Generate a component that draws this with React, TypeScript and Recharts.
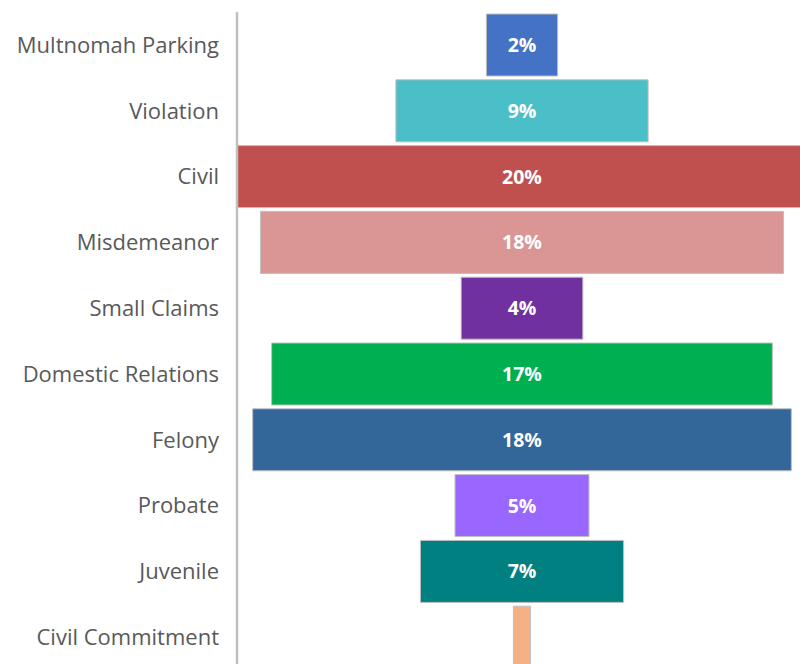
import React from "react";
import { BarChart, Bar, XAxis, YAxis, Cell, LabelList } from "recharts";

const categories = [
  "Multnomah Parking",
  "Violation",
  "Civil",
  "Misdemeanor",
  "Small Claims",
  "Domestic Relations",
  "Felony",
  "Probate",
  "Juvenile",
  "Civil Commitment",
];
const shares = [2.5, 8.85, 20.0, 18.35, 4.27, 17.57, 18.9, 4.7, 7.13, 0.6];
const labels = ["2%", "9%", "20%", "18%", "4%", "17%", "18%", "5%", "7%", ""];
const colors = [
  "#4472C4",
  "#4BBFC7",
  "#C0504D",
  "#D99694",
  "#7030A0",
  "#00B050",
  "#336699",
  "#9966FF",
  "#008080",
  "#F4B183",
];

const maxShare = Math.max(...shares);
const data = categories.map((name, i) => ({
  name,
  offset: (maxShare - shares[i]) / 2,
  value: shares[i],
  label: labels[i],
}));

export default function App() {
  return (
    <div
      style={{
        position: "fixed",
        left: 0,
        top: 0,
        width: 800,
        height: 664,
        overflow: "hidden",
        background: "#fff",
      }}
    >
      <BarChart
        width={810}
        height={672}
        data={data}
        layout="vertical"
        margin={{ top: 12, right: 3, bottom: 2, left: 0 }}
        barSize={62}
      >
        <XAxis type="number" domain={[0, maxShare]} hide />
        <YAxis
          type="category"
          dataKey="name"
          width={237}
          axisLine={{ stroke: "#BFBFBF", strokeWidth: 2.5 }}
          tickLine={false}
          tickSize={0}
          tickMargin={18}
          tick={{ fill: "#595959", fontSize: 22, fontFamily: "Open Sans" }}
          interval={0}
        />
        <Bar dataKey="offset" stackId="a" fill="transparent" isAnimationActive={false} />
        <Bar
          dataKey="value"
          stackId="a"
          stroke="#BFBFBF"
          strokeWidth={1}
          isAnimationActive={false}
        >
          {data.map((d, i) => (
            <Cell key={d.name} fill={colors[i]} />
          ))}
          <LabelList
            dataKey="label"
            position="center"
            fill="#FFFFFF"
            style={{ fontSize: 19.5, fontWeight: 700, fontFamily: "Open Sans" }}
          />
        </Bar>
      </BarChart>
    </div>
  );
}
